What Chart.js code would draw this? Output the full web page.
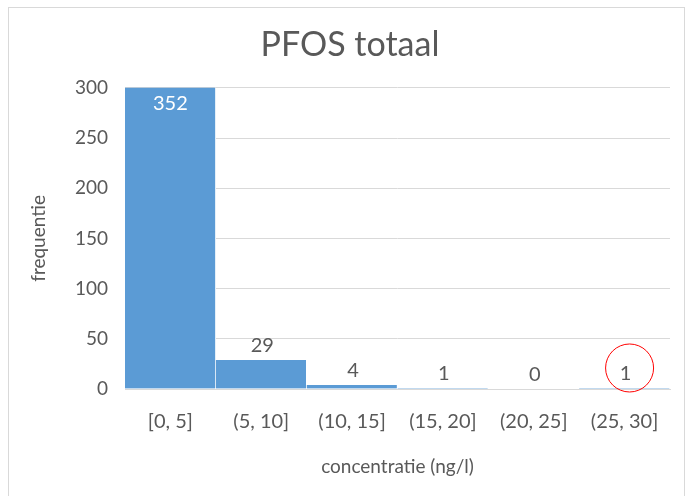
<!DOCTYPE html>
<html>
<head>
<meta charset="utf-8">
<script src="https://cdn.jsdelivr.net/npm/chart.js@4"></script>
<style>
  body { margin: 0; background: #fff; }
  #frame { position: absolute; left: 8px; top: 7px; width: 677px; height: 520px; border: 1px solid #d9d9d9; box-sizing: border-box; }
  canvas { position: absolute; left: 0; top: 0; }
</style>
</head>
<body>
<div id="frame"></div>
<canvas id="histChart" width="696" height="496"></canvas>
<script>
// ===== DATA =====
const categories = ["[0, 5]", "(5, 10]", "(10, 15]", "(15, 20]", "(20, 25]", "(25, 30]"];
const frequencies = [352, 29, 4, 1, 0, 1];
const yMax = 300;
const yStep = 50;
const circledIndex = 5;

const FONT = "Lato";
const TEXT = "#595959";

// ===== PLUGINS =====
// value labels: white inside the clipped bar, grey above the others
const valueLabels = {
  id: "valueLabels",
  afterDatasetsDraw(chart) {
    const ctx = chart.ctx;
    const meta = chart.getDatasetMeta(0);
    const area = chart.chartArea;
    ctx.save();
    ctx.font = "20px " + FONT;
    ctx.textAlign = "center";
    ctx.textBaseline = "middle";
    meta.data.forEach((bar, i) => {
      const v = frequencies[i];
      if (v > yMax) {
        ctx.fillStyle = "#ffffff";
        ctx.fillText(v, bar.x, area.top + 16);
      } else {
        ctx.fillStyle = TEXT;
        ctx.fillText(v, bar.x + 1, bar.y - 14);
      }
    });

    // red ring round the last label
    const hb = meta.data[circledIndex];
    ctx.strokeStyle = "#ff0000";
    ctx.lineWidth = 1;
    ctx.beginPath();
    ctx.arc(hb.x + 5, hb.y - 20, 24, 0, Math.PI * 2);
    ctx.stroke();
    ctx.restore();
  }
};

// ===== CHART =====
const ctx = document.getElementById("histChart").getContext("2d");

new Chart(ctx, {
  type: "bar",
  data: {
    labels: categories,
    datasets: [
      {
        data: frequencies,
        backgroundColor: "#5b9bd5",
        borderColor: "#ffffff",
        borderWidth: { right: 1 },
        barPercentage: 1,
        categoryPercentage: 1
      }
    ]
  },
  options: {
    responsive: false,
    animation: false,
    layout: { padding: { left: 19, right: 15, top: 0, bottom: 0 } },
    plugins: {
      legend: { display: false },
      tooltip: { enabled: false },
      title: {
        display: true,
        text: "PFOS totaal",
        color: TEXT,
        font: { family: FONT, size: 34, weight: "normal" },
        padding: { top: 25, bottom: 22 }
      }
    },
    scales: {
      x: {
        grid: { display: false, drawTicks: false },
        border: { display: true, color: "#d9d9d9" },
        ticks: { color: TEXT, font: { family: FONT, size: 20 }, padding: 21, maxRotation: 0 },
        title: {
          display: true,
          text: "concentratie (ng/l)",
          color: TEXT,
          font: { family: FONT, size: 19 },
          padding: { top: 10, bottom: 18 }
        },
        afterFit(scale) { scale.height = 107; }
      },
      y: {
        min: 0,
        max: yMax,
        grid: { color: "#d9d9d9", drawTicks: false },
        border: { display: false },
        ticks: { stepSize: yStep, color: TEXT, font: { family: FONT, size: 19 }, padding: 17 },
        title: {
          display: true,
          text: "frequentie",
          color: TEXT,
          font: { family: FONT, size: 19 },
          padding: { top: 8, bottom: 10 }
        },
        afterFit(scale) { scale.width = 106; }
      },
      // empty right-hand axis, only keeps the plot clear of the frame
      yRight: {
        position: "right",
        min: 0,
        max: yMax,
        grid: { display: false, drawTicks: false },
        border: { display: false },
        ticks: { display: false },
        afterFit(scale) { scale.width = 11; }
      }
    }
  },
  plugins: [valueLabels]
});
</script>
</body>
</html>
